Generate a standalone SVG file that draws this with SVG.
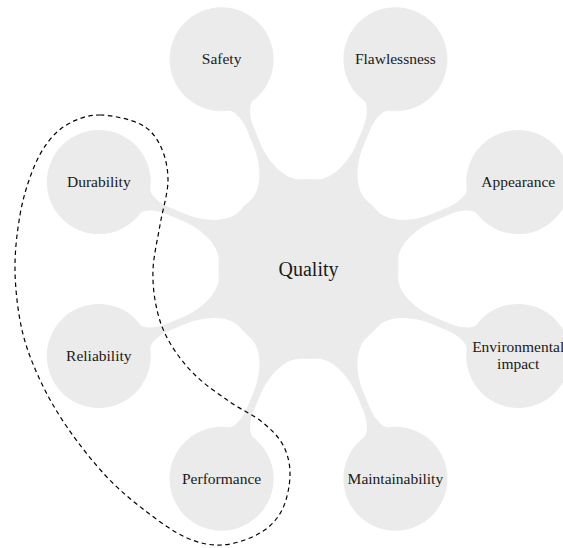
<svg xmlns="http://www.w3.org/2000/svg" xmlns:xlink="http://www.w3.org/1999/xlink" width="563" height="548" viewBox="0 0 563 548">
  <style>
    .blob { fill: #ebebeb; }
    .seam { stroke: #ffffff; stroke-width: 0.6; stroke-dasharray: 1 1; opacity: 0.8; }
    .lbl { font-family: "Liberation Serif", "DejaVu Serif", serif; font-size: 15.5px; fill: #1a1a1a; text-anchor: middle; }
    .main { font-family: "Liberation Serif", "DejaVu Serif", serif; font-size: 20px; fill: #1a1a1a; text-anchor: middle; }
    .group-outline { fill: none; stroke: #000000; stroke-width: 1.2; stroke-dasharray: 4.5 3.5; }
  </style>
  <defs>
    <path id="bar" class="blob" d="M 85.6,27.8 C 90.2,13.5 112,3.6 135,3.6 L 153,3.6 C 160,3.6 175,6.7 176.8,13.5 L 176.8,-13.5 C 175,-6.7 160,-3.6 153,-3.6 L 135,-3.6 C 112,-3.6 90.2,-13.5 85.6,-27.8 Z"/>
    <line id="seamline" class="seam" x1="150" y1="-4.6" x2="150" y2="4.6"/>
  </defs>

  <g id="connectors">
    <g transform="translate(308.5,269) rotate(-22.5)"><use xlink:href="#bar"/><use xlink:href="#seamline"/></g>
    <g transform="translate(308.5,269) rotate(-67.5)"><use xlink:href="#bar"/><use xlink:href="#seamline"/></g>
    <g transform="translate(308.5,269) rotate(-112.5)"><use xlink:href="#bar"/><use xlink:href="#seamline"/></g>
    <g transform="translate(308.5,269) rotate(-157.5)"><use xlink:href="#bar"/><use xlink:href="#seamline"/></g>
    <g transform="translate(308.5,269) rotate(157.5)"><use xlink:href="#bar"/><use xlink:href="#seamline"/></g>
    <g transform="translate(308.5,269) rotate(112.5)"><use xlink:href="#bar"/><use xlink:href="#seamline"/></g>
    <g transform="translate(308.5,269) rotate(67.5)"><use xlink:href="#bar"/><use xlink:href="#seamline"/></g>
    <g transform="translate(308.5,269) rotate(22.5)"><use xlink:href="#bar"/><use xlink:href="#seamline"/></g>
  </g>

  <g id="quality">
    <circle class="blob" cx="308.5" cy="269" r="90"/>
    <text class="main" x="308.5" y="275.5">Quality</text>
  </g>
  <g id="safety">
    <circle class="blob" cx="221.6" cy="59.3" r="52"/>
    <text class="lbl" x="221.6" y="64.3">Safety</text>
  </g>
  <g id="flawlessness">
    <circle class="blob" cx="395.4" cy="59.3" r="52"/>
    <text class="lbl" x="395.4" y="64.3">Flawlessness</text>
  </g>
  <g id="appearance">
    <circle class="blob" cx="518.2" cy="182.1" r="52"/>
    <text class="lbl" x="518.2" y="187.1">Appearance</text>
  </g>
  <g id="environmental-impact">
    <circle class="blob" cx="518.2" cy="355.9" r="52"/>
    <text class="lbl" x="518.2" y="352.4">Environmental</text>
    <text class="lbl" x="518.2" y="369.4">impact</text>
  </g>
  <g id="maintainability">
    <circle class="blob" cx="395.4" cy="478.7" r="52"/>
    <text class="lbl" x="395.4" y="483.7">Maintainability</text>
  </g>
  <g id="performance">
    <circle class="blob" cx="221.6" cy="478.7" r="52"/>
    <text class="lbl" x="221.6" y="483.7">Performance</text>
  </g>
  <g id="reliability">
    <circle class="blob" cx="98.8" cy="355.9" r="52"/>
    <text class="lbl" x="98.8" y="360.9">Reliability</text>
  </g>
  <g id="durability">
    <circle class="blob" cx="98.8" cy="182.1" r="52"/>
    <text class="lbl" x="98.8" y="187.1">Durability</text>
  </g>

  <g id="grouping-outline">
    <path class="group-outline" d="M 100,115 C 111.7,115.2 130,119 140,124 C 150,129 155.3,135.7 160,145 C 164.7,154.3 168,166.7 168,180 C 168,193.3 162.5,210 160,225 C 157.5,240 153.5,255.8 153,270 C 152.5,284.2 154.2,297.8 157,310 C 159.8,322.2 163.7,332.2 170,343 C 176.3,353.8 185,365.2 195,375 C 205,384.8 218.8,394.2 230,402 C 241.2,409.8 253.2,414.8 262,422 C 270.8,429.2 278.3,436.2 283,445 C 287.7,453.8 290.2,464.2 290,475 C 289.8,485.8 287,500.3 282,510 C 277,519.7 270,527.2 260,533 C 250,538.8 234.5,544.3 222,545 C 209.5,545.7 198.2,543 185,537 C 171.8,531 156.3,519.3 143,509 C 129.7,498.7 117.7,488.7 105,475 C 92.3,461.3 77.8,442.8 67,427 C 56.2,411.2 47.5,396.2 40,380 C 32.5,363.8 26.2,348.3 22,330 C 17.8,311.7 15.3,289.2 15,270 C 14.7,250.8 17.2,231.3 20,215 C 22.8,198.7 27.3,184.2 32,172 C 36.7,159.8 41.7,150.2 48,142 C 54.3,133.8 61.3,127.5 70,123 C 78.7,118.5 88.3,114.8 100,115 Z"/>
  </g>
</svg>
